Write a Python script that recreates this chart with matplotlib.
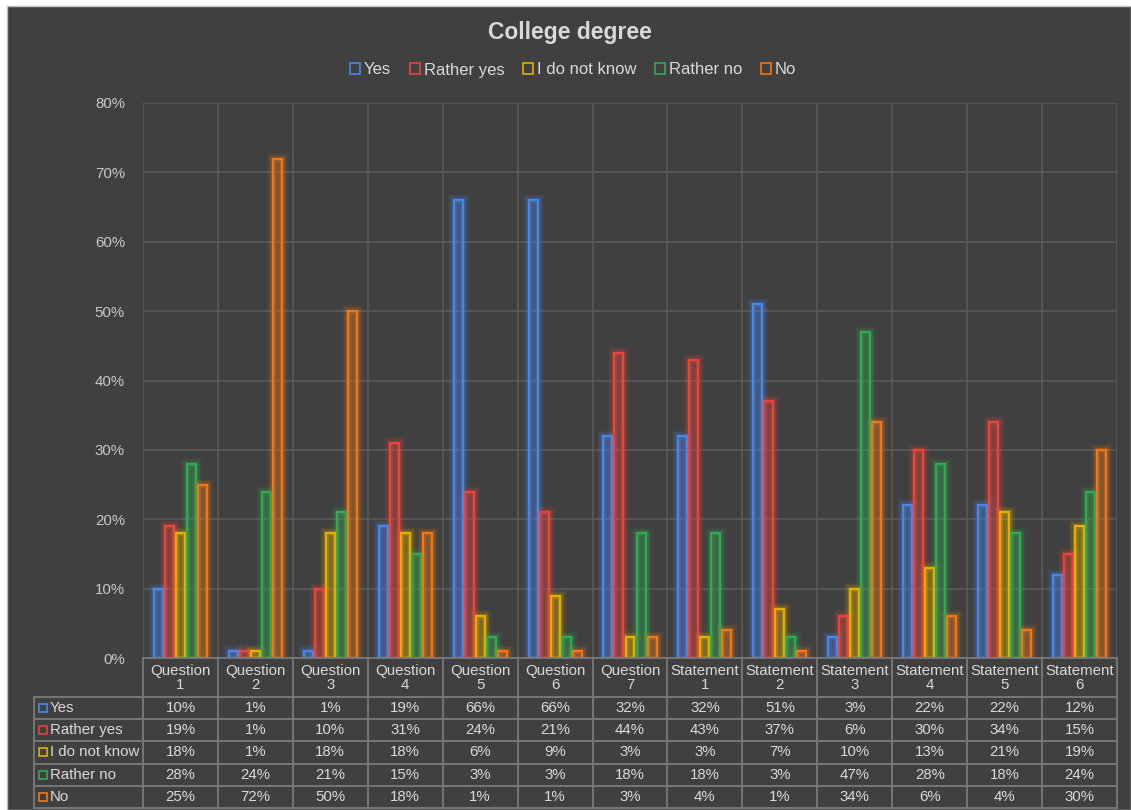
import matplotlib
matplotlib.use("Agg")
import matplotlib.pyplot as plt
from matplotlib.patches import Rectangle
import numpy as np

plt.rcParams['font.family'] = ['Liberation Sans', 'DejaVu Sans']

# ---- data -------------------------------------------------------------
categories = ["Question\n1", "Question\n2", "Question\n3", "Question\n4",
              "Question\n5", "Question\n6", "Question\n7",
              "Statement\n1", "Statement\n2", "Statement\n3",
              "Statement\n4", "Statement\n5", "Statement\n6"]
series_names = ["Yes", "Rather yes", "I do not know", "Rather no", "No"]
yes = [10, 1, 1, 19, 66, 66, 32, 32, 51, 3, 22, 22, 12]
rather_yes = [19, 1, 10, 31, 24, 21, 44, 43, 37, 6, 30, 34, 15]
do_not_know = [18, 1, 18, 18, 6, 9, 3, 3, 7, 10, 13, 21, 19]
rather_no = [28, 24, 21, 15, 3, 3, 18, 18, 3, 47, 28, 18, 24]
no = [25, 72, 50, 18, 1, 1, 3, 4, 1, 34, 6, 4, 30]
y_ticks = [0, 10, 20, 30, 40, 50, 60, 70, 80]

series_values = [yes, rather_yes, do_not_know, rather_no, no]
colors = ["#4a86e8", "#e8453c", "#e3b000", "#34a853", "#f07818"]

BG = "#404040"
GRID = "#5a5a5a"
TABLE_LINE = "#7a7a7a"
TEXT = "#d9d9d9"
TICK_TEXT = "#c8c8c8"
FS = 10.8

W, H = 1131, 810
fig = plt.figure(figsize=(W / 100, H / 100), dpi=100)
fig.patch.set_facecolor("white")

# dark chart area behind everything
fig.patches.append(Rectangle((7 / W, 0), 1 - 7 / W, 1 - 6 / H,
                             transform=fig.transFigure, facecolor=BG,
                             edgecolor="#bfbfbf", linewidth=1.0, zorder=-10))

# ---- plot area --------------------------------------------------------
px_left, px_right, px_top, px_bottom = 143, 1117, 103, 658
ax = fig.add_axes([px_left / W, 1 - px_bottom / H,
                   (px_right - px_left) / W, (px_bottom - px_top) / H])
ax.set_facecolor("none")
n = len(categories)
x = np.arange(n)
ax.set_xlim(-0.5, n - 0.5)
ax.set_ylim(0, 80)

# gridlines
for yv in y_ticks[1:]:
    ax.axhline(yv, color=GRID, lw=1.2, zorder=1)
for k in range(n + 1):
    ax.axvline(k - 0.5, color=GRID, lw=1.2, zorder=1)

bar_w = 0.12
step = 0.147
for i, (vals, c) in enumerate(zip(series_values, colors)):
    xs = x + (i - 2) * step
    # soft glow around each bar
    for lw, a in [(9, 0.08), (6, 0.13), (3.8, 0.22)]:
        ax.bar(xs, vals, width=bar_w, facecolor="none", edgecolor=c,
               linewidth=lw, alpha=a, zorder=2)
    ax.bar(xs, vals, width=bar_w, color=c, alpha=0.25, linewidth=0, zorder=3)
    ax.bar(xs, vals, width=bar_w, facecolor="none", edgecolor=c,
           linewidth=1.6, zorder=4)

ax.set_yticks(y_ticks)
ax.set_yticklabels([f"{v}%" for v in y_ticks], color=TICK_TEXT, fontsize=FS)
ax.tick_params(axis="y", length=0, pad=13)
ax.set_xticks([])
for s in ax.spines.values():
    s.set_visible(False)

# ---- data table -------------------------------------------------------
tab_left, tab_bottom = 34, 808
unit = (px_right - px_left) / n
x_left = -0.5 - (px_left - tab_left) / unit
tax = fig.add_axes([tab_left / W, 1 - tab_bottom / H,
                    (px_right - tab_left) / W, (tab_bottom - px_bottom) / H])
tax.set_facecolor("none")
header_h = 1.75
n_rows = len(series_names)
total_h = header_h + n_rows
tax.set_xlim(x_left, n - 0.5)
tax.set_ylim(total_h, 0)
tax.axis("off")

# horizontal table lines
tax.plot([-0.5, n - 0.5], [0, 0], color=TABLE_LINE, lw=1.3, clip_on=False)
for r in range(n_rows + 1):
    yv = header_h + r
    tax.plot([x_left, n - 0.5], [yv, yv], color=TABLE_LINE, lw=1.3,
             clip_on=False)
# vertical table lines
for k in range(n + 1):
    tax.plot([k - 0.5, k - 0.5], [0, total_h], color=TABLE_LINE, lw=1.3,
             clip_on=False)
tax.plot([x_left, x_left], [header_h, total_h], color=TABLE_LINE, lw=1.3,
         clip_on=False)

# header cells
for k, cat in enumerate(categories):
    tax.text(k, header_h / 2 + 0.03, cat, ha="center", va="center",
             color=TEXT, fontsize=FS, linespacing=1.05)

# row labels with series keys, and values
for r, (name, vals, c) in enumerate(zip(series_names, series_values, colors)):
    yc = header_h + r + 0.5
    tax.plot([x_left + 0.115], [yc], marker="s", ms=5.5, mfc="none",
             mec=c, mew=1.2, clip_on=False)
    tax.text(x_left + 0.21, yc, name, ha="left", va="center",
             color=TEXT, fontsize=FS)
    for k, v in enumerate(vals):
        tax.text(k, yc, f"{v}%", ha="center", va="center",
                 color=TEXT, fontsize=FS)

# ---- title and legend -------------------------------------------------
fig.text(570 / W, 1 - 33 / H, "College degree", ha="center", va="center",
         color=TEXT, fontsize=16.5, fontweight="bold")

handles = [Rectangle((0, 0), 1, 1, facecolor="none", edgecolor=c, lw=1.2)
         for c in colors]
fig.legend(handles, series_names, loc="center", ncol=5,
           bbox_to_anchor=(573 / W, 1 - 70 / H), frameon=False,
           handlelength=0.6, handleheight=0.6, handletextpad=0.25,
           columnspacing=1.1, labelcolor=TEXT, fontsize=12)

fig.savefig("out.png", dpi=100, facecolor=fig.get_facecolor())
